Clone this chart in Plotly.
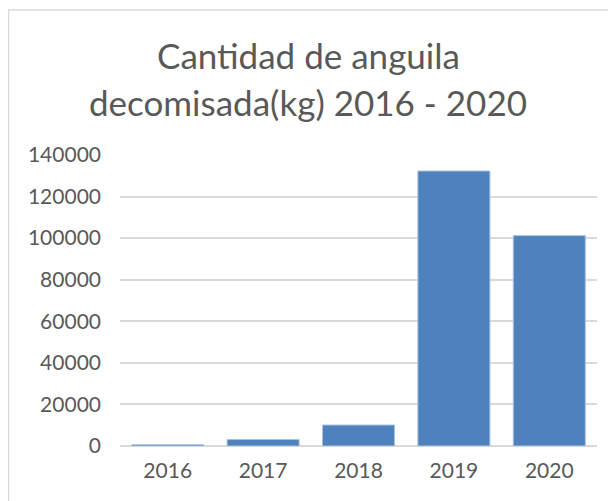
import plotly.graph_objects as go

years = ["2016", "2017", "2018", "2019", "2020"]
kg = [600, 3100, 10100, 132300, 101200]
y_ticks = [0, 20000, 40000, 60000, 80000, 100000, 120000, 140000]
title_lines = ["Cantidad de anguila", "decomisada(kg) 2016 - 2020"]

# page body has an 8px margin, so the figure is laid out in its own coords
W, H = 608, 493
L, R, T, B = 112, 19, 147, 55
pw, ph = W - L - R, H - T - B

def px(x):
    return (x - L) / pw

def py(y):
    return (H - B - y) / ph

fig = go.Figure(go.Bar(
    x=years, y=kg,
    marker=dict(color="#4f81bd", line=dict(color="#a9c1e0", width=1)),
))

fig.add_shape(type="path", xref="paper", yref="paper",
              path=f"M {px(0.5)} -1 L {px(0.5)} {py(2)} L 1.2 {py(2)}",
              line=dict(color="#d9d9d9", width=1.5))

for i, (line, yc) in enumerate(zip(title_lines, [47, 94])):
    fig.add_annotation(text=line, xref="paper", yref="paper",
                       x=px(300), y=py(yc), xanchor="center", yanchor="middle",
                       showarrow=False,
                       font=dict(size=35, color="#595959", family="Lato"))

fig.update_layout(
    width=W, height=H,
    margin=dict(l=L, r=R, t=T, b=B, autoexpand=False),
    paper_bgcolor="white", plot_bgcolor="white",
    bargap=0.245,
    showlegend=False,
    font=dict(family="Lato", color="#595959"),
    xaxis=dict(showline=False, ticks="", tickfont=dict(size=21),
               showgrid=False, ticklabelstandoff=10),
    yaxis=dict(range=[0, 140000], tickvals=y_ticks,
               ticktext=[str(v) for v in y_ticks],
               showgrid=True, gridcolor="#d9d9d9", gridwidth=1.5,
               zeroline=True, zerolinecolor="#d9d9d9", zerolinewidth=1.5,
               tickfont=dict(size=21), ticks="", ticklabelstandoff=18),
)

fig.write_html("out.html")
